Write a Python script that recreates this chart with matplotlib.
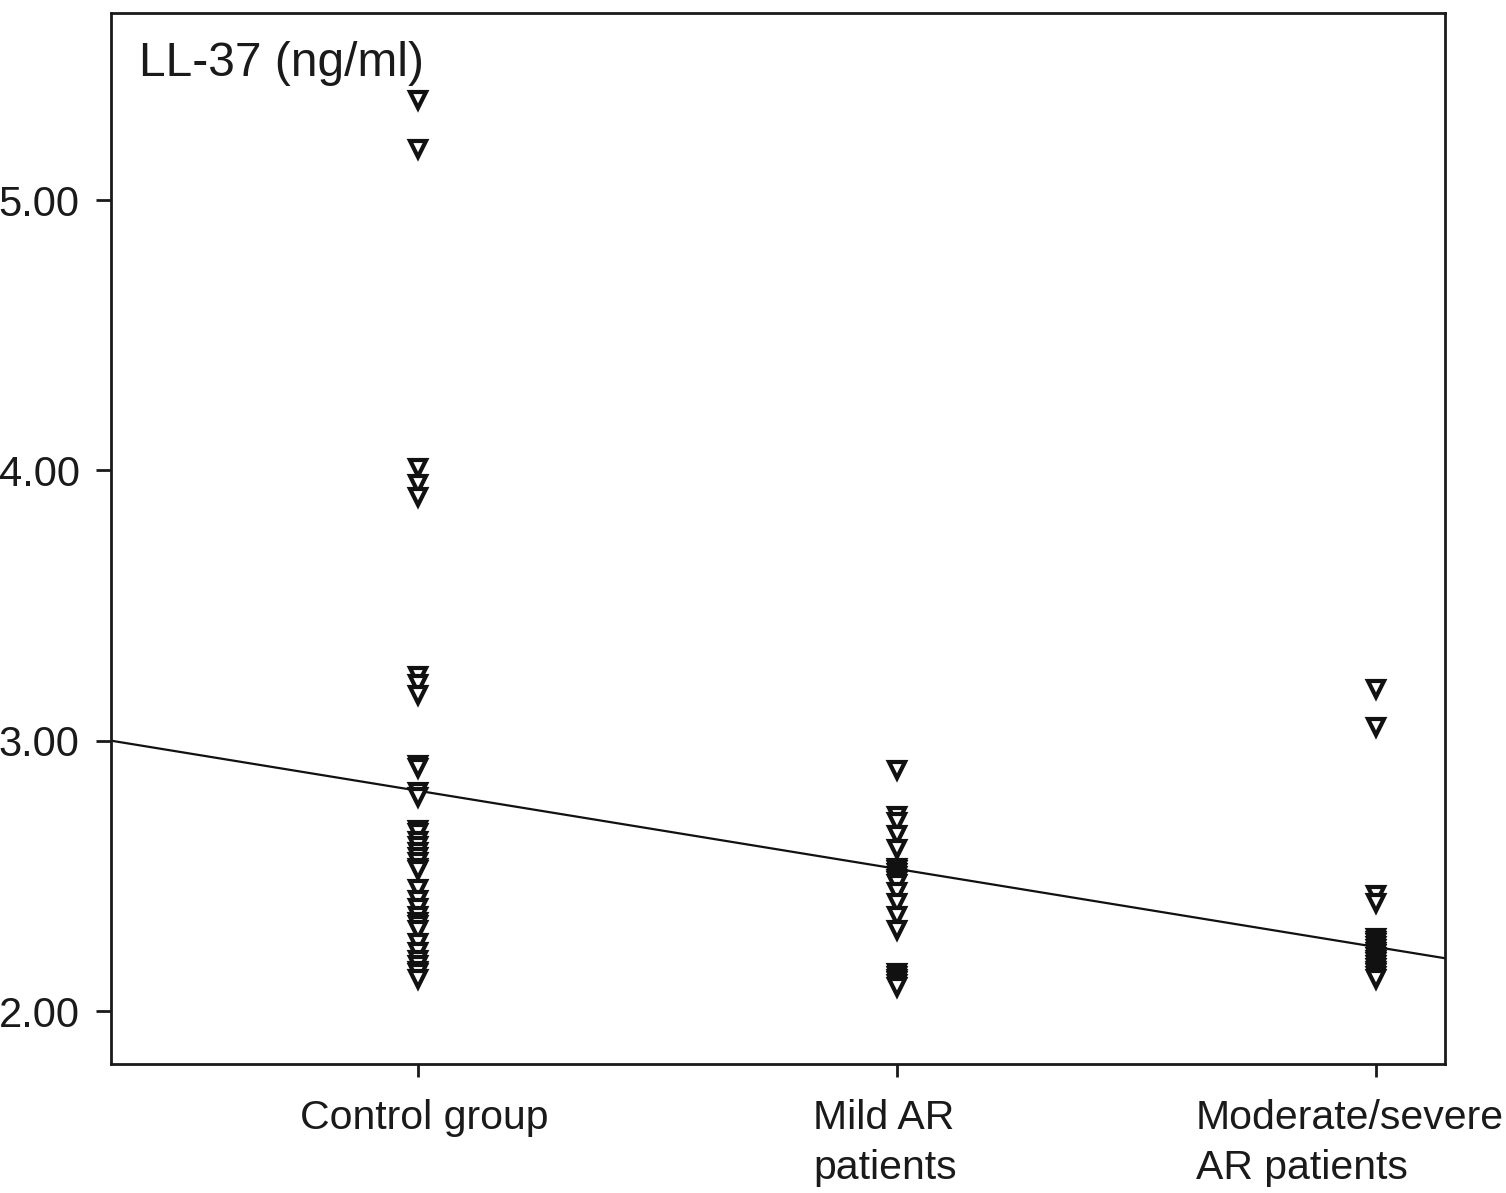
import matplotlib
matplotlib.use("Agg")
import matplotlib.pyplot as plt
import matplotlib.transforms as mtransforms
import numpy as np

plt.rcParams['font.family'] = ['Liberation Sans', 'DejaVu Sans']

categories = ["Control group", "Mild AR\npatients", "Moderate/severe\nAR patients"]
control = [5.37, 5.19, 4.01, 3.95, 3.90, 3.24, 3.21, 3.17, 2.91, 2.90, 2.81, 2.79,
           2.67, 2.66, 2.63, 2.61, 2.59, 2.57, 2.55, 2.53, 2.52,
           2.45, 2.41, 2.38, 2.35, 2.33, 2.32, 2.30,
           2.25, 2.22, 2.19, 2.17, 2.15, 2.14, 2.12]
mild = [2.89, 2.72, 2.70, 2.65, 2.60, 2.53, 2.52, 2.51, 2.50, 2.49, 2.48, 2.47,
        2.44, 2.40, 2.35, 2.30, 2.14, 2.13, 2.12, 2.11, 2.10, 2.09]
moderate = [3.19, 3.05, 2.43, 2.40, 2.27, 2.26, 2.25, 2.24, 2.23, 2.22, 2.21,
            2.20, 2.19, 2.18, 2.17, 2.16, 2.15, 2.14, 2.13, 2.12]
groups = [control, mild, moderate]
fit_intercept = 3.104
fit_slope = -0.289
yticks = [2.0, 3.0, 4.0, 5.0]
ylabel_text = "LL-37 (ng/ml)"

fig = plt.figure(figsize=(15.06, 11.93), dpi=100)
ax = fig.add_axes([0.0737, 0.1081, 0.9595 - 0.0737, 0.9891 - 0.1081])

for i, vals in enumerate(groups, start=1):
    ax.plot([i] * len(vals), vals, linestyle='none', marker='v', markersize=11,
            markerfacecolor='white', markeredgecolor='#111111', markeredgewidth=3.0)

xlim = (0.359, 3.144)
xs = np.array(xlim)
ax.plot(xs, fit_intercept + fit_slope * xs, color='#111111', linewidth=1.6, zorder=1)

ax.set_xlim(*xlim)
ax.set_ylim(1.804, 5.692)
ax.set_yticks(yticks)
ax.set_yticklabels([f"{v:.2f}" for v in yticks])
ax.set_xticks([1, 2, 3])
ax.set_xticklabels(categories, multialignment='left', linespacing=1.4)

for sp in ax.spines.values():
    sp.set_linewidth(2.0)
    sp.set_color('#1a1a1a')
ax.tick_params(axis='y', direction='out', length=11, width=2.0, pad=11.5,
               labelsize=30, colors='#1a1a1a')
ax.tick_params(axis='x', direction='out', length=9, width=2.0, pad=16,
               labelsize=29.5, colors='#1a1a1a')

offsets_px = [6, -12, -26]
for lab, dx in zip(ax.get_xticklabels(), offsets_px):
    lab.set_transform(lab.get_transform() +
                      mtransforms.ScaledTranslation(dx / 100.0, 0, fig.dpi_scale_trans))

ax.text(0.021, 0.940, ylabel_text, transform=ax.transAxes, fontsize=34.5,
        ha='left', va='baseline', color='#1a1a1a')

fig.savefig("out.png", dpi=100)
